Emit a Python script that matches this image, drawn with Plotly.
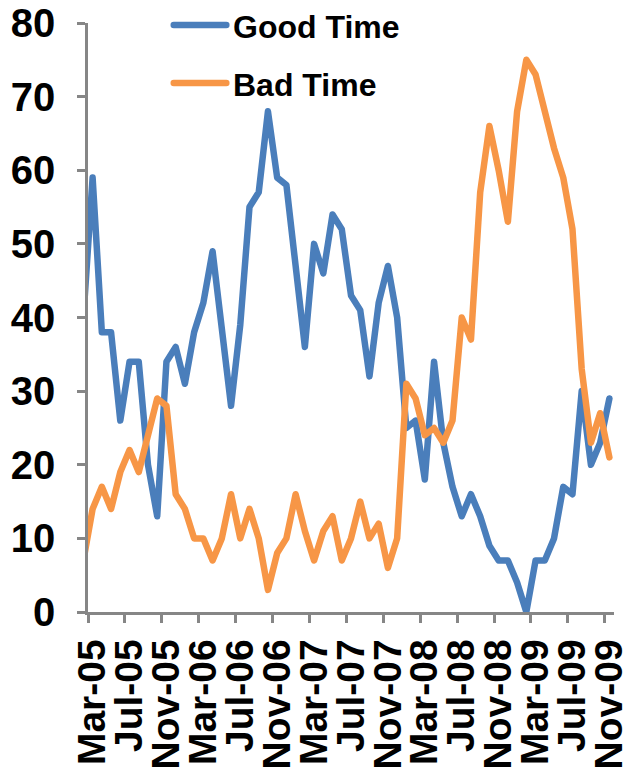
import plotly.graph_objects as go
import pandas as pd

# Monthly categories (Feb-05 sits just left of the visible axis, as in the reference)
months = list(pd.date_range("2005-02-01", periods=58, freq="MS").strftime("%b-%y"))

good_time = [40, 59, 38, 38, 26, 34, 34, 20, 13, 34, 36, 31, 38, 42, 49, 38, 28, 39,
             55, 57, 68, 59, 58, 47, 36, 50, 46, 54, 52, 43, 41, 32, 42, 47, 40, 25,
             26, 18, 34, 23, 17, 13, 16, 13, 9, 7, 7, 4, 0, 7, 7, 10, 17, 16, 30, 20,
             23, 29]
bad_time = [7, 14, 17, 14, 19, 22, 19, 24, 29, 28, 16, 14, 10, 10, 7, 10, 16, 10,
            14, 10, 3, 8, 10, 16, 11, 7, 11, 13, 7, 10, 15, 10, 12, 6, 10, 31,
            29, 24, 25, 23, 26, 40, 37, 57, 66, 60, 53, 68, 75, 73, 68, 63, 59, 52,
            33, 23, 27, 21]

x_pos = [i - 1 for i in range(len(months))]
tick_vals = x_pos[1::4]
tick_text = months[1::4]
y_ticks = [0, 10, 20, 30, 40, 50, 60, 70, 80]

BLUE = "#4A7EBB"
ORANGE = "#F79646"
AXIS = "#868686"
FONT = "Liberation Sans"

fig = go.Figure()
fig.add_trace(go.Scatter(x=x_pos, y=good_time, mode="lines", name="Good Time",
                         line=dict(color=BLUE, width=6.5), showlegend=False))
fig.add_trace(go.Scatter(x=x_pos, y=bad_time, mode="lines", name="Bad Time",
                         line=dict(color=ORANGE, width=6.5), showlegend=False))

# Legend drawn like the reference (long line samples)
legend_items = [("Good Time", BLUE, 0.9966), ("Bad Time", ORANGE, 0.898)]
for name, col, yy in legend_items:
    fig.add_shape(type="line", xref="paper", yref="paper", x0=0.163, x1=0.263,
                  y0=yy, y1=yy, line=dict(color=col, width=6.5))
    fig.add_annotation(xref="paper", yref="paper", x=0.271, y=yy - 0.004, text=name,
                       showarrow=False, xanchor="left", yanchor="middle",
                       font=dict(family=FONT, size=32, color="black", weight="bold"))

fig.update_layout(
    width=626, height=771,
    margin=dict(l=88, r=12, t=23, b=159, autoexpand=False),
    paper_bgcolor="white", plot_bgcolor="white",
    showlegend=False,
)
fig.update_xaxes(
    range=[-0.5, 56.5], tickmode="array", tickvals=tick_vals, ticktext=tick_text,
    tickangle=-90, ticks="", showgrid=False, zeroline=False, automargin=False,
    showline=True, linecolor=AXIS, linewidth=2.5, ticklabeloverflow="allow",
    tickfont=dict(family=FONT, size=39, color="black", weight="bold"),
    ticklabelstandoff=9,
    minor=dict(tick0=-0.5, dtick=4, ticks="outside", ticklen=8, tickwidth=2.5,
               tickcolor=AXIS, showgrid=False),
)
fig.update_yaxes(
    range=[0, 80], tickmode="array", tickvals=y_ticks, automargin=False,
    ticks="outside", ticklen=8, tickwidth=2.5, tickcolor=AXIS,
    showgrid=False, zeroline=False, ticklabeloverflow="allow",
    showline=True, linecolor=AXIS, linewidth=2.5,
    tickfont=dict(family=FONT, size=40, color="black", weight="bold"),
    ticklabelstandoff=14,
)

post = """
document.body.style.margin='0';
document.body.style.padding='0';
document.body.style.overflow='hidden';
document.querySelectorAll('.js-line, .shapelayer path').forEach(function(p){
  p.style.strokeLinejoin='round'; p.style.strokeLinecap='round';
});
"""
fig.write_html("out.html", post_script=post, config={"displayModeBar": False})
